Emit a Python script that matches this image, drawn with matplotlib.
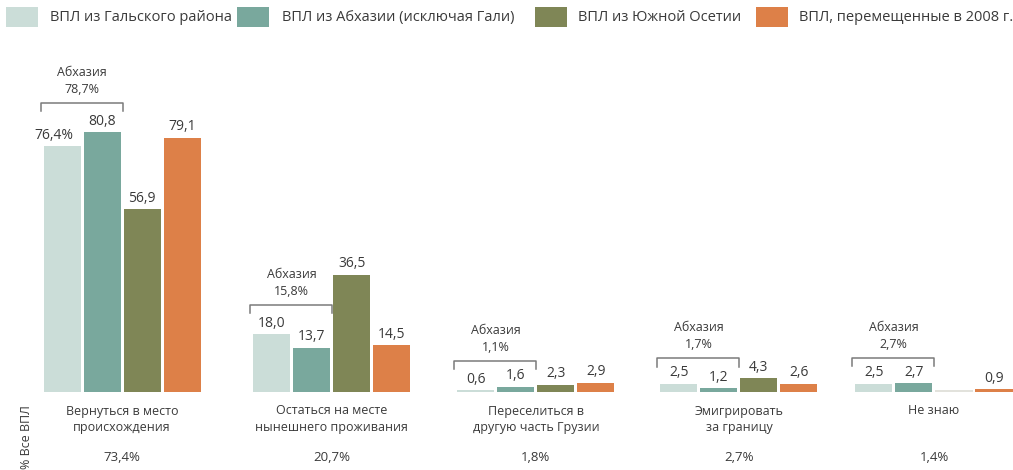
import matplotlib
matplotlib.use("Agg")
import matplotlib.pyplot as plt
from matplotlib.patches import Rectangle
import numpy as np

plt.rcParams['font.family'] = ['Open Sans', 'DejaVu Sans']

# ---- data ----
categories = ["Вернуться в место\nпроисхождения",
              "Остаться на месте\nнынешнего проживания",
              "Переселиться в\nдругую часть Грузии",
              "Эмигрировать\nза границу",
              "Не знаю"]
series_names = ["ВПЛ из Гальского района",
                "ВПЛ из Абхазии (исключая Гали)",
                "ВПЛ из Южной Осетии",
                "ВПЛ, перемещенные в 2008 г."]
gali = [76.4, 18.0, 0.6, 2.5, 2.5]
abkhazia_ex_gali = [80.8, 13.7, 1.6, 1.2, 2.7]
south_ossetia = [56.9, 36.5, 2.3, 4.3, 0.0]
displaced_2008 = [79.1, 14.5, 2.9, 2.6, 0.9]
abkhazia_total = ["78,7%", "15,8%", "1,1%", "1,7%", "2,7%"]
all_idp_total = ["73,4%", "20,7%", "1,8%", "2,7%", "1,4%"]

# ---- style / layout ----
colors = ["#CBDDD8", "#79A89D", "#7F8656", "#DD8048"]
text_color = "#3A3A3A"
W, H = 1013, 470
fig = plt.figure(figsize=(W / 100, H / 100), dpi=100)

pitch_px = 203.0
base_px = 392
top_px = 40
px_per_unit = 3.215
ax = fig.add_axes([0, (H - base_px) / H, 1, (base_px - top_px) / H])
ax.set_xlim(-122 / pitch_px, (W - 122) / pitch_px)
ax.set_ylim(0, (base_px - top_px) / px_per_unit)
ax.axis('off')

group_x = np.array([0, 1.034, 2.039, 3.039, 4.0])
step = 40 / pitch_px
bw = 37 / pitch_px
series = [gali, abkhazia_ex_gali, south_ossetia, displaced_2008]

for i, (vals, col) in enumerate(zip(series, colors)):
    xs = group_x + (i - 1.5) * step
    ax.bar(xs, vals, width=bw, color=col, align='center')
    for j, (x, v) in enumerate(zip(xs, vals)):
        if v <= 0:
            continue
        lab = f"{v:.1f}".replace('.', ',')
        dx = 0
        if i == 0 and j == 0:
            lab += "%"
            dx = -6
        ax.annotate(lab, (x, v), xytext=(dx, 2.5), textcoords='offset points',
                    ha='center', va='bottom', fontsize=10, color=text_color)

# faint stub for zero bar
ax.plot([group_x[4] + 0.5 * step - bw / 2, group_x[4] + 0.5 * step + bw / 2], [0.3, 0.3],
        color="#DDDDD5", lw=1.2, solid_capstyle='butt')

# brackets for Abkhazia
for j in range(len(categories)):
    hmax = max(gali[j], abkhazia_ex_gali[j])
    off = 9.2 if hmax > 10 else 8.0
    yb = hmax + off
    x0 = group_x[j] - 1.5 * step - bw / 2 - 3 / pitch_px
    x1 = group_x[j] - 0.5 * step + bw / 2 + 2 / pitch_px
    ax.plot([x0, x0, x1, x1], [yb - 2.6, yb, yb, yb - 2.6], color="#7A7A7A", lw=1.1)
    ax.annotate("Абхазия\n" + abkhazia_total[j], ((x0 + x1) / 2, yb), xytext=(0, 5),
                textcoords='offset points', ha='center', va='bottom', fontsize=9,
                color=text_color, linespacing=1.4)

# category labels and totals
for j, (cat, tot) in enumerate(zip(categories, all_idp_total)):
    ax.annotate(cat, (group_x[j], 0), xytext=(0, -9), textcoords='offset points',
                ha='center', va='top', fontsize=9, color=text_color, linespacing=1.4)
    ax.annotate(tot, (group_x[j], 0), xytext=(0, -47.5), textcoords='offset points',
                ha='center', va='center', fontsize=9.5, color=text_color)

fig.text(27 / W, (H - 437) / H, "% Все ВПЛ", rotation=90, ha='center', va='center',
         fontsize=9, color=text_color)

# legend
leg_sq_x = [6, 237, 535, 756]
leg_tx_x = [50, 282, 578, 799]
for k, (name, col) in enumerate(zip(series_names, colors)):
    fig.add_artist(Rectangle((leg_sq_x[k] / W, (H - 27) / H), 32 / W, 20 / H,
                             transform=fig.transFigure, color=col, lw=0))
    fig.text(leg_tx_x[k] / W, (H - 17.5) / H, name, ha='left', va='center',
             fontsize=10.5, color=text_color)

fig.savefig("out.png", dpi=100)
